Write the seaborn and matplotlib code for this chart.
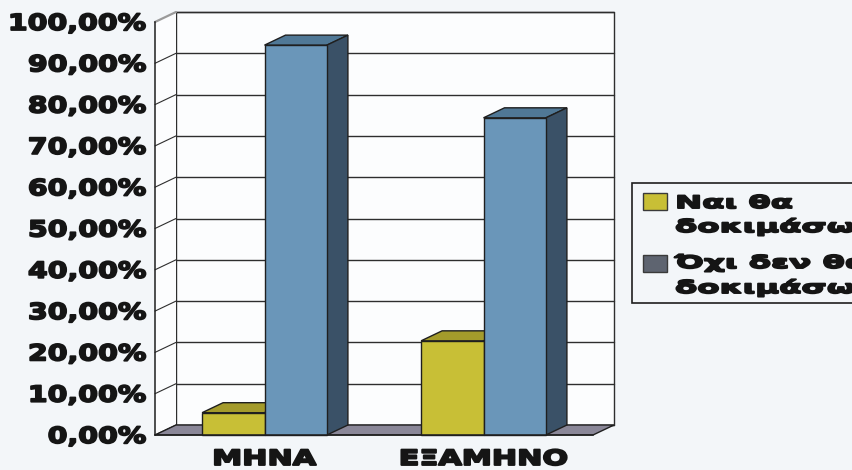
import matplotlib
matplotlib.use("Agg")
import matplotlib.pyplot as plt
import pandas as pd
import seaborn as sns
from matplotlib import patheffects
from matplotlib.patches import Polygon, Rectangle
from matplotlib.transforms import Affine2D, ScaledTranslation

# ---- data -------------------------------------------------------------
periods = ["ΜΗΝΑ", "ΕΞΑΜΗΝΟ"]
answers = ["Ναι θα δοκιμάσω", "Όχι δεν θα δοκιμάσω"]
yes_values = [5.4, 22.8]
no_values = [94.4, 76.8]
y_ticks = list(range(0, 101, 10))
y_tick_labels = [f"{v},00%" for v in y_ticks]

df = pd.DataFrame({
    "period": periods * 2,
    "answer": [answers[0]] * len(periods) + [answers[1]] * len(periods),
    "value": yes_values + no_values,
})

# ---- style ------------------------------------------------------------
BG = "#f3f6f9"
WALL = "#fcfdfe"
GRID = "#2e2e2e"
EDGE = "#1f1f1f"
FLOOR = "#8a8798"
FRONT = ["#c8bf36", "#6a96b9"]
TOP = ["#a49b2b", "#507896"]
SIDE = ["#7d7620", "#3a5167"]
LEGEND_SWATCH = ["#c8bf36", "#5e6470"]
INK = "#151515"

sns.set_style("white")
plt.rcParams["font.family"] = ["DejaVu Sans"]
plt.rcParams["font.weight"] = "bold"


class WideHeavy(patheffects.AbstractPathEffect):
    """Widen glyph outlines horizontally around an anchor and thicken them."""

    def __init__(self, sx, anchor="left", stroke=0.0):
        super().__init__()
        self.sx = sx
        self.anchor = anchor
        self.stroke = stroke

    def draw_path(self, renderer, gc, tpath, affine, rgbFace=None):
        ext = tpath.get_extents()
        if self.anchor == "right":
            x0 = ext.x1
        elif self.anchor == "center":
            x0 = 0.5 * (ext.x0 + ext.x1)
        else:
            x0 = 0.0
        pre = Affine2D().translate(-x0, 0).scale(self.sx, 1.0).translate(x0, 0)
        gc0 = renderer.new_gc()
        gc0.copy_properties(gc)
        if self.stroke > 0 and rgbFace is not None:
            gc0.set_linewidth(self.stroke)
            gc0.set_foreground(rgbFace)
            gc0.set_joinstyle("round")
        renderer.draw_path(gc0, tpath, pre + affine, rgbFace)
        gc0.restore()


W, H, DPI = 853, 470, 100
fig = plt.figure(figsize=(W / DPI, H / DPI), dpi=DPI, facecolor=BG)
ax = fig.add_axes([155 / W, 35 / H, 438 / W, 413 / H])
ax.set_facecolor("none")

sns.barplot(
    data=df, x="period", y="value", hue="answer",
    order=periods, hue_order=answers, palette=FRONT,
    width=0.57, saturation=1, edgecolor=EDGE, linewidth=1,
    legend=False, ax=ax, zorder=3,
)
ax.set_xlim(-0.5, len(periods) - 0.5)
ax.set_ylim(0, 100)
ax.set_xlabel("")
ax.set_ylabel("")

# depth of the 3-D box, as a data-space offset
DX_PX, DY_PX = 21, 10
back = ax.transData + ScaledTranslation(DX_PX / DPI, DY_PX / DPI, fig.dpi_scale_trans)
origin = ax.transData.transform((0, 0))
dxd, dyd = ax.transData.inverted().transform(origin + [DX_PX, DY_PX])
x_lo, x_hi = ax.get_xlim()

# back wall, side wall and floor
ax.add_patch(Rectangle((x_lo, 0), x_hi - x_lo, 100, transform=back,
                       facecolor=WALL, edgecolor=GRID, lw=1.0, zorder=0.5, clip_on=False))
ax.add_patch(Polygon([(x_lo, 0), (x_lo, 100), (x_lo + dxd, 100 + dyd), (x_lo + dxd, dyd)],
                     facecolor=WALL, edgecolor="none", zorder=0.5, clip_on=False))
for t in y_ticks:
    ax.plot([x_lo, x_hi], [t, t], transform=back, color=GRID, lw=1.0,
            zorder=1, clip_on=False)
    ax.plot([x_lo, x_lo + dxd], [t, t + dyd],
            color=("#9a9a9a" if t == y_ticks[-1] else GRID),
            lw=(1.6 if t == y_ticks[-1] else 0.8), zorder=1, clip_on=False)
ax.add_patch(Polygon([(x_lo, 0), (x_hi, 0), (x_hi + dxd, dyd), (x_lo + dxd, dyd)],
                     facecolor=FLOOR, edgecolor=EDGE, lw=1.0, zorder=1.5, clip_on=False))

# top and side faces of every bar
for i, cont in enumerate(ax.containers):
    for bar in cont:
        bar.set_clip_on(False)
        x, w, h = bar.get_x(), bar.get_width(), bar.get_height()
        ax.add_patch(Polygon([(x, h), (x + w, h), (x + w + dxd, h + dyd), (x + dxd, h + dyd)],
                             facecolor=TOP[i], edgecolor=EDGE, lw=1.0, zorder=2, clip_on=False))
        ax.add_patch(Polygon([(x + w, 0), (x + w + dxd, dyd), (x + w + dxd, h + dyd), (x + w, h)],
                             facecolor=SIDE[i], edgecolor=EDGE, lw=1.0, zorder=2, clip_on=False))

# axes lines and ticks
for side in ["top", "right"]:
    ax.spines[side].set_visible(False)
for side in ["left", "bottom"]:
    ax.spines[side].set_color(EDGE)
    ax.spines[side].set_linewidth(1.1)
    ax.spines[side].set_zorder(4)

ax.set_yticks(y_ticks)
ax.set_yticklabels(y_tick_labels)
ax.tick_params(axis="y", length=4, width=1, color=EDGE, pad=2)
for lab in ax.get_yticklabels():
    lab.set_fontsize(16)
    lab.set_fontweight("bold")
    lab.set_color(INK)
    lab.set_path_effects([WideHeavy(1.28, "right", stroke=1.3)])

ax.set_xticks(range(len(periods)))
ax.set_xticklabels(periods)
ax.set_xticks([i + 0.5 for i in range(len(periods))], minor=True)
ax.tick_params(axis="x", which="major", length=0, pad=10)
ax.tick_params(axis="x", which="minor", length=6, width=1, color=EDGE, direction="out")
for lab in ax.get_xticklabels():
    lab.set_fontsize(15)
    lab.set_fontweight("bold")
    lab.set_color(INK)
    lab.set_path_effects([WideHeavy(1.45, "center", stroke=1.5)])

# legend box
fig.patches.append(Rectangle((632 / W, 1 - 303 / H), 0.4, 120 / H, transform=fig.transFigure,
                             facecolor=BG, edgecolor=EDGE, lw=1.2, zorder=1))
swatch_tops = [193, 255]
line_baselines = [[208, 232], [268, 293]]
for answer, color, top, bases in zip(answers, LEGEND_SWATCH, swatch_tops, line_baselines):
    fig.patches.append(Rectangle((643 / W, 1 - (top + 17) / H), 24 / W, 17 / H,
                                 transform=fig.transFigure, facecolor=color,
                                 edgecolor="#3a3a3a", lw=1.0, zorder=2))
    for line, base in zip(answer.rsplit(" ", 1), bases):
        fig.text(675 / W, 1 - base / H, line, fontsize=12.3, fontweight="bold",
                 color=INK, va="baseline", ha="left",
                 path_effects=[WideHeavy(1.9, "left", stroke=1.4)])

fig.savefig("out.png", dpi=DPI, facecolor=BG)
